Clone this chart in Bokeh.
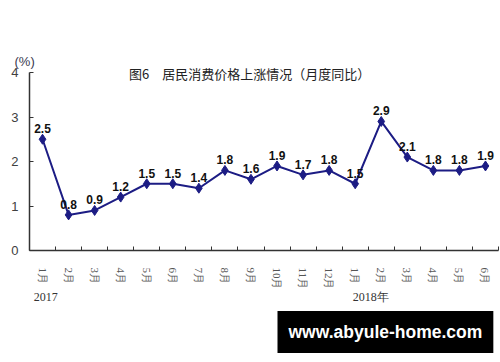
import math
from bokeh.plotting import figure
from bokeh.models import Range1d, FixedTicker, Label, ColumnDataSource, LinearAxis, Title
from bokeh.embed import file_html
from bokeh.resources import INLINE
from bokeh.core.properties import value

# ---- data ----
months = ["1月", "2月", "3月", "4月", "5月", "6月", "7月", "8月", "9月", "10月", "11月", "12月",
          "1月", "2月", "3月", "4月", "5月", "6月"]
cpi = [2.5, 0.8, 0.9, 1.2, 1.5, 1.5, 1.4, 1.8, 1.6, 1.9, 1.7, 1.8,
       1.5, 2.9, 2.1, 1.8, 1.8, 1.9]
y_ticks = [0, 1, 2, 3, 4]
years = ["2017", "2018年"]
year_pos = [0.62, 13.1]
title_text = "图6　居民消费价格上涨情况（月度同比）"
unit_text = "(%)"
watermark = "www.abyule-home.com"

n = len(months)
xs = [i + 0.5 for i in range(n)]
src = ColumnDataSource(dict(x=xs, y=cpi, lbl=[f"{v:.1f}" for v in cpi]))

p = figure(width=500, height=362, output_backend="svg", toolbar_location=None,
           x_range=Range1d(0, n), y_range=Range1d(0, 4.27),
           min_border_left=29, min_border_right=2, min_border_top=60, min_border_bottom=112)
p.outline_line_color = None
p.xgrid.visible = False
p.ygrid.visible = False

# unit text as the plot title (titles sit outside the frame)
p.title.text = unit_text
p.title.align = "left"
p.title.offset = -15
p.title.standoff = -16
p.title.text_font = "Liberation Sans"
p.title.text_font_size = "13px"
p.title.text_font_style = "normal"
p.title.text_color = "#3a3a50"

# y axis
p.yaxis.ticker = FixedTicker(ticks=y_ticks)
p.yaxis.bounds = (0, 4)
p.yaxis.axis_line_color = "#333333"
p.yaxis.axis_line_width = 1.5
p.yaxis.major_tick_in = 4
p.yaxis.major_tick_out = 0
p.yaxis.minor_tick_line_color = None
p.yaxis.major_tick_line_color = "#333333"
p.yaxis.major_label_standoff = 11
p.yaxis.major_label_text_font = "Liberation Sans"
p.yaxis.major_label_text_font_size = "13px"
p.yaxis.major_label_text_color = "#404040"

# x axis: labels at category centres, ticks at boundaries
p.xaxis.ticker = FixedTicker(ticks=xs, minor_ticks=list(range(n + 1)))
p.xaxis.major_label_overrides = {x: m for x, m in zip(xs, months)}
p.xaxis.axis_line_color = "#333333"
p.xaxis.axis_line_width = 1.5
p.xaxis.major_tick_line_color = None
p.xaxis.minor_tick_in = 4
p.xaxis.minor_tick_out = 0
p.xaxis.minor_tick_line_color = "#333333"
p.xaxis.major_label_orientation = -math.pi / 2
p.xaxis.major_label_standoff = 11
p.xaxis.major_label_text_font = "Liberation Serif"
p.xaxis.major_label_text_font_size = "11px"
p.xaxis.major_label_text_color = "#555555"

# year axis
year_axis = LinearAxis(ticker=FixedTicker(ticks=year_pos),
                       major_label_overrides={x: y for x, y in zip(year_pos, years)},
                       axis_line_color=None, major_tick_line_color=None, minor_tick_line_color=None,
                       major_label_standoff=-9, major_label_text_font="Liberation Serif",
                       major_label_text_font_size="12px", major_label_text_color="#333333")
p.add_layout(year_axis, "below")

# watermark as a title below
wm = Title(text=watermark, align="left", offset=248, vertical_align="top", standoff=9,
           text_font="Liberation Sans", text_font_style="bold", text_font_size="17.5px",
           text_color="white", background_fill_color="black", padding=11)
p.add_layout(wm, "below")

# series
p.line("x", "y", source=src, line_color="#1c1c84", line_width=2)
p.scatter("x", "y", source=src, marker="diamond", size=10, fill_color="#1c1c84", line_color="#1c1c84")
p.text("x", "y", text="lbl", source=src, y_offset=-6, text_align="center", text_baseline="bottom",
       text_font=value("Liberation Sans"), text_font_style="bold", text_font_size="12px",
       text_color="#111111")

# chart title inside the frame
p.add_layout(Label(x=8.45, y=3.98, text=title_text, text_align="center", text_baseline="middle",
                   text_font="Noto Sans CJK SC", text_font_size="13px", text_color="#222222"))

open("out.html", "w").write(file_html(p, INLINE))
